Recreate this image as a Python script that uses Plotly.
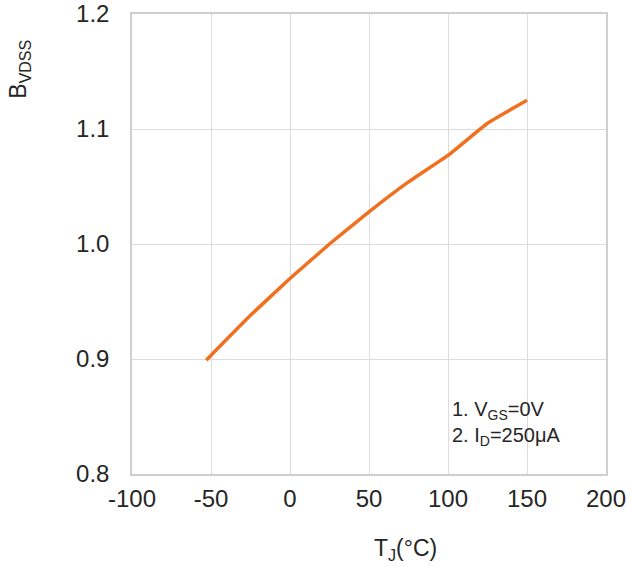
import plotly.graph_objects as go

tj = [-53, -25, 0, 25, 50, 75, 100, 125, 150]
bvdss = [0.899, 0.938, 0.970, 1.000, 1.028, 1.054, 1.077, 1.105, 1.125]

x_ticks = [-100, -50, 0, 50, 100, 150, 200]
y_ticks = [0.8, 0.9, 1.0, 1.1, 1.2]

font_family = "Liberation Sans, Arial, sans-serif"
txt_color = "#262626"
grid_color = "#dcdcdc"

fig = go.Figure()
fig.add_trace(go.Scatter(x=tj, y=bvdss, mode="lines",
                         line=dict(color="#F07020", width=3.5, shape="spline", smoothing=0.3),
                         showlegend=False, hoverinfo="skip"))

fig.update_layout(
    width=632, height=567,
    margin=dict(l=132, r=26, t=14, b=93, autoexpand=False),
    paper_bgcolor="white", plot_bgcolor="white",
    font=dict(family=font_family, size=23, color=txt_color),
    xaxis=dict(range=[-100, 200], tickvals=x_ticks, ticktext=[str(v) for v in x_ticks],
               showgrid=True, gridcolor=grid_color, gridwidth=1, automargin=False,
               zeroline=False, showline=True, linecolor="#cfcfcf", linewidth=1.5, mirror=True,
               ticks="", ticklabelstandoff=2, tickfont=dict(size=24, color=txt_color)),
    yaxis=dict(range=[0.8, 1.2], tickvals=y_ticks, ticktext=[f"{v:.1f}" for v in y_ticks],
               showgrid=True, gridcolor=grid_color, gridwidth=1, automargin=False,
               zeroline=False, showline=True, linecolor="#cfcfcf", linewidth=1.5, mirror=True,
               ticks="", ticklabelstandoff=16, tickfont=dict(size=24, color=txt_color)),
)

fig.add_annotation(xref="paper", yref="paper", x=-0.237, y=0.88,
                   text="B<sub>VDSS</sub>", textangle=-90, showarrow=False,
                   xanchor="center", yanchor="middle",
                   font=dict(size=23, color=txt_color))
fig.add_annotation(xref="paper", yref="paper", x=0.578, y=-0.165,
                   text="T<sub>J</sub>(°C)", showarrow=False,
                   xanchor="center", yanchor="middle",
                   font=dict(size=23, color=txt_color))
fig.add_annotation(xref="paper", yref="paper", x=0.671, y=0.11,
                   text="1. V<sub>GS</sub>=0V<br>2. I<sub>D</sub>=250μA", showarrow=False,
                   xanchor="left", yanchor="middle", align="left",
                   font=dict(size=20, color=txt_color))

fig.write_html("out.html")
